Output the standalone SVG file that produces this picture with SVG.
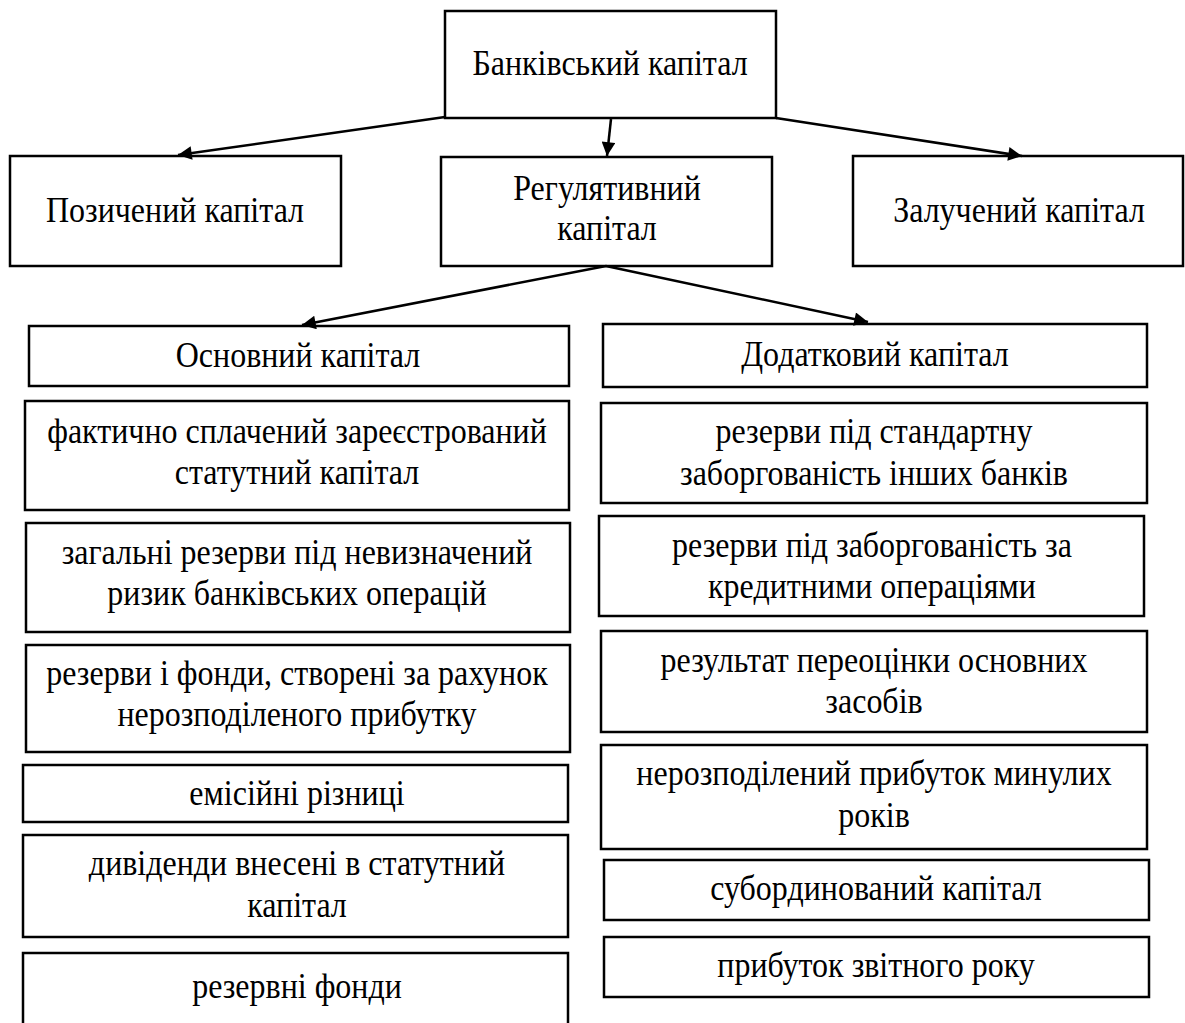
<svg xmlns="http://www.w3.org/2000/svg" width="1185" height="1023" viewBox="0 0 1185 1023">
<style>
rect{fill:#fff;stroke:#000;stroke-width:2.5}
text{font-family:"Liberation Serif","Times New Roman",serif;font-size:32px;fill:#000;text-anchor:middle}
.c line{stroke:#000;stroke-width:2.5;marker-end:url(#ah)}
</style>
<defs>
<marker id="ah" viewBox="0 0 10 10" refX="10" refY="5" markerWidth="7" markerHeight="5.5" markerUnits="strokeWidth" orient="auto"><path d="M0,0L10,5L0,10z" fill="#000"/></marker>
</defs>
<rect x="0" y="0" width="1185" height="1023" style="fill:#fff;stroke:none"/>
<g id="n-bank"><rect x="445" y="11" width="331" height="107"/><text transform="matrix(1 0 0 1.1 610 75)">Банківський капітал</text></g>
<g id="n-pozych"><rect x="10" y="156" width="331" height="110"/><text transform="matrix(1 0 0 1.1 175 222)">Позичений капітал</text></g>
<g id="n-rehul"><rect x="441" y="157" width="331" height="109"/><text transform="matrix(1 0 0 1.1 607 200)">Регулятивний</text><text transform="matrix(1 0 0 1.1 607 240)">капітал</text></g>
<g id="n-zaluch"><rect x="853" y="156" width="330" height="110"/><text transform="matrix(1 0 0 1.1 1019 222)">Залучений капітал</text></g>
<g id="n-osn"><rect x="29" y="326" width="540" height="60"/><text transform="matrix(1 0 0 1.1 298 367)">Основний капітал</text></g>
<g id="n-fakt"><rect x="25" y="401" width="544" height="109"/><text transform="matrix(1 0 0 1.1 297 443)">фактично сплачений зареєстрований</text><text transform="matrix(1 0 0 1.1 297 484)">статутний капітал</text></g>
<g id="n-zah"><rect x="26" y="523" width="544" height="109"/><text transform="matrix(1 0 0 1.1 297 564)">загальні резерви під невизначений</text><text transform="matrix(1 0 0 1.1 297 605)">ризик банківських операцій</text></g>
<g id="n-rezf"><rect x="26" y="645" width="544" height="107"/><text transform="matrix(1 0 0 1.1 297 685)">резерви і фонди, створені за рахунок</text><text transform="matrix(1 0 0 1.1 297 726)">нерозподіленого прибутку</text></g>
<g id="n-emis"><rect x="23" y="765" width="545" height="57"/><text transform="matrix(1 0 0 1.1 297 805)">емісійні різниці</text></g>
<g id="n-dyv"><rect x="23" y="835" width="545" height="102"/><text transform="matrix(1 0 0 1.1 297 875)">дивіденди внесені в статутний</text><text transform="matrix(1 0 0 1.1 297 917)">капітал</text></g>
<g id="n-rezfondy"><rect x="23" y="953" width="545" height="90"/><text transform="matrix(1 0 0 1.1 297 998)">резервні фонди</text></g>
<g id="n-dod"><rect x="603" y="324" width="544" height="63"/><text transform="matrix(1 0 0 1.1 875 366)">Додатковий капітал</text></g>
<g id="n-std"><rect x="601" y="403" width="546" height="100"/><text transform="matrix(1 0 0 1.1 874 443)">резерви під стандартну</text><text transform="matrix(1 0 0 1.1 874 485)">заборгованість інших банків</text></g>
<g id="n-kred"><rect x="599" y="516" width="545" height="100"/><text transform="matrix(1 0 0 1.1 872 557)">резерви під заборгованість за</text><text transform="matrix(1 0 0 1.1 872 598)">кредитними операціями</text></g>
<g id="n-pereoc"><rect x="601" y="631" width="546" height="101"/><text transform="matrix(1 0 0 1.1 874 672)">результат переоцінки основних</text><text transform="matrix(1 0 0 1.1 874 713)">засобів</text></g>
<g id="n-nerozp"><rect x="601" y="745" width="546" height="104"/><text transform="matrix(1 0 0 1.1 874 785)">нерозподілений прибуток минулих</text><text transform="matrix(1 0 0 1.1 874 827)">років</text></g>
<g id="n-sub"><rect x="604" y="860" width="545" height="60"/><text transform="matrix(1 0 0 1.1 876 900)">субординований капітал</text></g>
<g id="n-prib"><rect x="604" y="937" width="545" height="60"/><text transform="matrix(1 0 0 1.1 876 977)">прибуток звітного року</text></g>
<g id="connectors" class="c">
<line x1="445" y1="117" x2="178" y2="155"/>
<line x1="611" y1="119" x2="607" y2="156"/>
<line x1="776" y1="118" x2="1022" y2="156"/>
<line x1="606" y1="266" x2="302" y2="325"/>
<line x1="606" y1="266" x2="868" y2="322"/>
</g>
</svg>
